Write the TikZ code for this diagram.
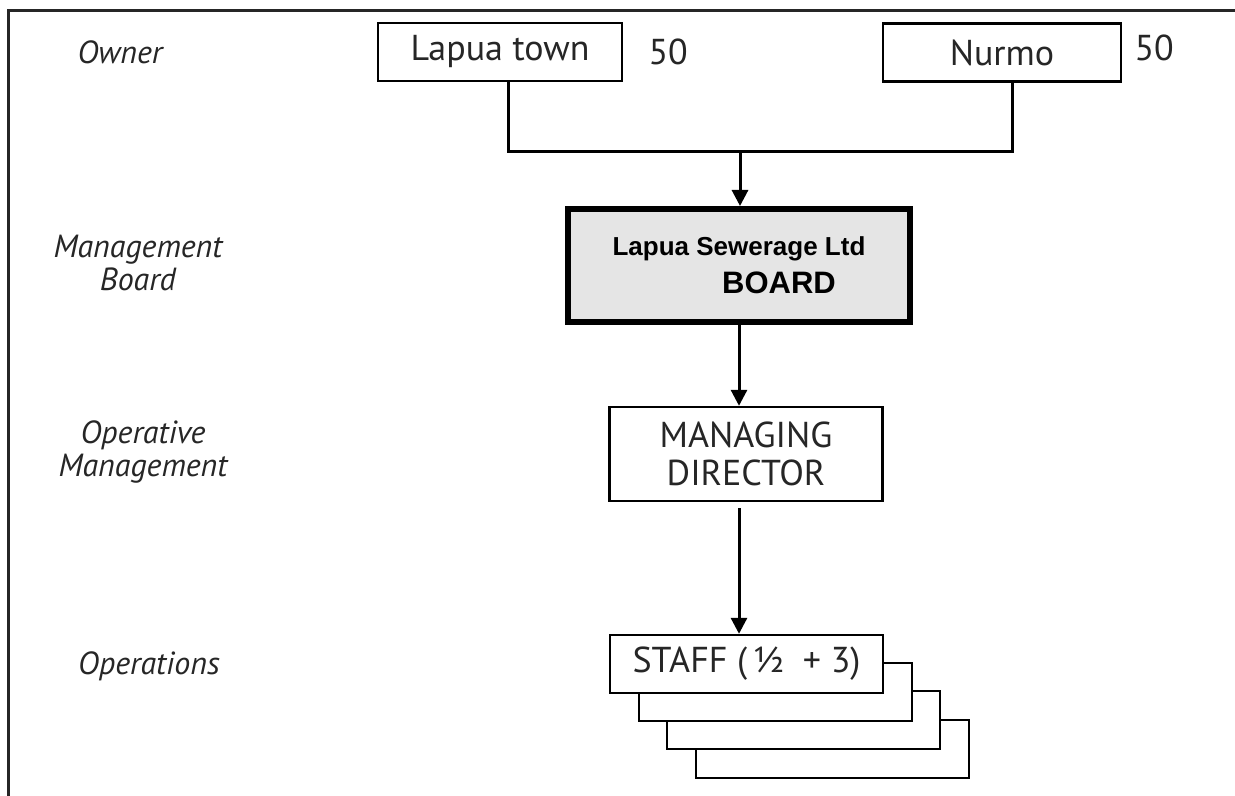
\documentclass[tikz,border=0pt]{standalone}
\usepackage{fontspec}
\setmainfont{PT Sans}
\newfontfamily\boardfont{Liberation Sans}
\usetikzlibrary{arrows.meta,positioning}

\begin{document}
\begin{tikzpicture}[
		x=0.5pt, y=-0.5pt,
		arrow/.style={-{Triangle[width=8pt,length=8pt]}, line width=1.5pt},
		link/.style={line width=1.5pt},
		block/.style={draw, line width=1.2pt, fill=white, minimum width=136.5pt, minimum height=29pt, inner sep=0pt, align=center, text=black!85, font=\fontsize{18}{19}\selectfont},
		level/.style={align=center, text=black!85, font=\fontsize{16}{16.5}\selectfont\itshape},
		share/.style={inner sep=0pt, text=black!85, font=\fontsize{18}{19}\selectfont},
	]
		\useasboundingbox (0,0) rectangle (1235,796);
		\draw[line width=1.5pt, black!85] (8,796) -- (8,11) -- (1235,11);

		% levels
		\node [level] (owner) at (120,52) {Owner};
		\node [level] (mboard) at (138,263) {Management\\Board};
		\node [level] (opmgmt) at (143,452) {Operative\\Management};
		\node [level] (ops) at (149,666) {Operations};

		% owners
		\node [block, minimum width=122pt] (lapua) at (500,52) {Lapua town};
		\node [share, right=12.5pt of lapua] (share a) {50};
		\node [block, minimum width=119pt] (nurmo) at (1002,52.5) {Nurmo};
		\node [share, right=6pt of nurmo, yshift=2.5pt] (share b) {50};
		\coordinate (join) at (740,152);

		\node [block, line width=3pt, fill=black!10, text=black, minimum width=171pt, minimum height=56.5pt, font=\boardfont\bfseries\fontsize{13}{19}\selectfont] (board) at (739,265.5) {Lapua Sewerage Ltd\\\hspace*{40pt}\fontsize{15.5}{19}\selectfont BOARD};
		\node [block, minimum height=47pt] (md) at (746,454) {MANAGING\\DIRECTOR};

		% staff, stacked
		\node [block] (staff d) at (832.5,749) {};
		\node [block] (staff c) at (803.5,720) {};
		\node [block] (staff b) at (775.5,692) {};
		\node [block] (staff) at (746.5,664) {STAFF (\,½ \ + 3)};

		\draw[link] ([xshift=4pt]lapua.south) |- (join);
		\draw[link] ([xshift=5pt]nurmo.south) |- (join);
		\draw[arrow] (join) -- (join |- board.north);
		\draw[arrow] (board) -- (board |- md.north);
		\draw[arrow, shorten <=3pt] (board |- md.south) -- (board |- staff.north);
	\end{tikzpicture}
\end{document}
